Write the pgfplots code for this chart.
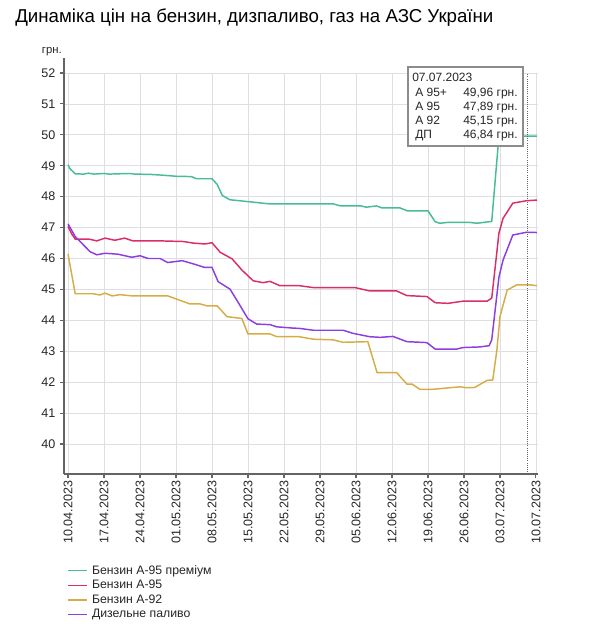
\documentclass[border=0pt]{standalone}
\usepackage{fontspec}
\setmainfont{Liberation Sans}
\usepackage{pgfplots}
\pgfplotsset{compat=1.18}

\definecolor{cApr}{RGB}{72,187,152}
\definecolor{cA95}{RGB}{218,45,105}
\definecolor{cA92}{RGB}{214,172,70}
\definecolor{cDP}{RGB}{140,62,222}
\definecolor{axgray}{RGB}{100,100,100}
\definecolor{gridgray}{RGB}{222,222,228}

\begin{document}
\begin{tikzpicture}
% pixel grid of the reference: 1 px = 0.75pt, y downwards
\path[use as bounding box] (0,0) rectangle (453.75pt,-472.5pt);

\begin{axis}[
  at={(48pt,-355.5pt)}, anchor=south west,
  width=355.5pt, height=300.75pt, scale only axis,
  xmin=-0.78, xmax=91.4,
  ymin=39.03, ymax=52,
  axis lines*=left,
  axis line style={axgray, line width=1.2pt, -},
  y axis line style={shorten >=-11pt},
  tick align=outside,
  major tick length=3pt,
  tick style={axgray, line width=0.8pt},
  grid=major,
  grid style={gridgray, line width=0.6pt},
  xtick={0,7,...,91},
  xticklabels={10.04.2023,17.04.2023,24.04.2023,01.05.2023,08.05.2023,15.05.2023,22.05.2023,29.05.2023,05.06.2023,12.06.2023,19.06.2023,26.06.2023,03.07.2023,10.07.2023},
  x tick label style={rotate=90, anchor=east, inner sep=2pt},
  ytick={40,41,...,52},
  tick label style={font=\fontsize{9.4}{11}\selectfont, text=black!85},
  /pgf/number format/assume math mode=true,
  legend cell align=left,
  legend style={at={(0.0063,-0.222)}, anchor=north west, draw=none, fill=none,
    font=\fontsize{9.2}{10.9}\selectfont, inner sep=0pt, row sep=0pt,
    nodes={inner sep=1.5pt, text=black!85}},
  legend image code/.code={\draw[#1, line width=1.1pt] (0pt,0pt) -- (14.5pt,0pt); \path (16pt,0pt);},
  every axis plot/.append style={line width=1.1pt, mark=none},
]
\addplot[cApr] coordinates {(0,49.03) (0.4,48.9) (1.4,48.74) (3,48.73) (4,48.76) (5,48.73) (7,48.75) (8,48.73) (12,48.75) (13,48.73) (16,48.72) (18,48.70) (21,48.66) (24,48.65) (25,48.58) (28,48.58) (29,48.4) (30,48.04) (31.5,47.90) (35,47.84) (39,47.77) (47,47.77) (51.5,47.77) (53,47.70) (57,47.70) (58,47.66) (60,47.70) (61,47.64) (64.5,47.64) (66,47.54) (70,47.54) (71.4,47.19) (72.3,47.14) (74,47.17) (78,47.17) (79.5,47.14) (82.4,47.20) (83.8,49.96) (91.2,49.96)};
\addlegendentry{Бензин А-95 преміум}
\addplot[cA95] coordinates {(0,47.04) (0.7,46.8) (1.4,46.63) (4,46.63) (5.6,46.57) (7.2,46.66) (9.1,46.59) (11,46.66) (12.6,46.57) (17.9,46.57) (22.4,46.55) (24.3,46.50) (26.6,46.47) (28,46.51) (29.6,46.20) (31.9,45.99) (33.8,45.63) (36,45.28) (37.9,45.22) (39.3,45.26) (41.2,45.12) (45,45.12) (47.7,45.06) (55.8,45.06) (58.7,44.95) (63.9,44.95) (65.9,44.80) (69.8,44.77) (71.4,44.57) (73.9,44.55) (76.8,44.62) (81.5,44.62) (82.4,44.72) (83.8,46.82) (84.6,47.30) (86.5,47.79) (89.2,47.87) (91.2,47.89)};
\addlegendentry{Бензин А-95}
\addplot[cA92] coordinates {(0,46.15) (1.4,44.86) (4.9,44.86) (6.2,44.82) (7.2,44.88) (8.6,44.79) (10.1,44.83) (12.6,44.79) (19.4,44.79) (22.4,44.61) (23.7,44.53) (25.7,44.53) (27,44.47) (29,44.47) (30.9,44.12) (33.8,44.06) (35,43.56) (39.3,43.56) (40.6,43.47) (45,43.47) (47.7,43.39) (51.5,43.37) (53.5,43.29) (58.3,43.31) (60.1,42.31) (63.9,42.31) (65.9,41.94) (66.9,41.94) (68.4,41.77) (71,41.77) (72.9,41.80) (76.2,41.85) (77.6,41.82) (79.1,41.83) (81.5,42.06) (82.6,42.07) (83.4,43.04) (84,44.12) (85.4,44.98) (87.3,45.15) (89.8,45.15) (91.2,45.12)};
\addlegendentry{Бензин А-92}
\addplot[cDP] coordinates {(0,47.12) (1.4,46.71) (4.3,46.22) (5.6,46.12) (7.2,46.17) (9.7,46.14) (12.4,46.04) (14,46.09) (15.6,46.00) (17.9,46.00) (19.4,45.87) (22.2,45.93) (24.3,45.83) (26.6,45.71) (28,45.71) (29.2,45.25) (31.5,45.01) (32.8,44.66) (35,44.05) (36.7,43.88) (39.3,43.86) (40.6,43.79) (43.7,43.75) (45,43.74) (47.7,43.68) (53.5,43.68) (55.4,43.58) (58.7,43.47) (60.7,43.45) (63.2,43.48) (65.9,43.31) (69.8,43.28) (71.4,43.07) (75.6,43.07) (76.8,43.12) (80.1,43.14) (81.9,43.18) (82.4,43.37) (83.8,45.40) (84.6,45.95) (86.5,46.76) (89.2,46.85) (91.2,46.84)};
\addlegendentry{Дизельне паливо}
\addplot[black!60, line width=0.6pt, densely dotted, forget plot] coordinates {(89.4,39.03) (89.4,52)};
\end{axis}

\begin{scope}[x=0.75pt, y=-0.75pt]
\node[anchor=base west, inner sep=0, font=\fontsize{14}{16}\selectfont] at (15,23)
  {Динаміка цін на бензин, дизпаливо, газ на АЗС України};
\node[anchor=base east, inner sep=0, font=\fontsize{8.5}{10}\selectfont, text=black!85] at (62,54) {грн.};
\draw[fill=white, draw=black!45, line width=0.9pt] (408,67) rectangle (523,146);
\begin{scope}[every node/.style={inner sep=0, font=\fontsize{9}{11}\selectfont, text=black!85}]
\node[anchor=base west] at (412,82) {07.07.2023};
\node[anchor=base west] at (415,97) {А 95+};
\node[anchor=base west] at (415,111) {А 95};
\node[anchor=base west] at (415,125) {А 92};
\node[anchor=base west] at (415,139) {ДП};
\node[anchor=base west] at (463,97) {49,96 грн.};
\node[anchor=base west] at (463,111) {47,89 грн.};
\node[anchor=base west] at (463,125) {45,15 грн.};
\node[anchor=base west] at (463,139) {46,84 грн.};
\end{scope}
\end{scope}
\end{tikzpicture}
\end{document}
